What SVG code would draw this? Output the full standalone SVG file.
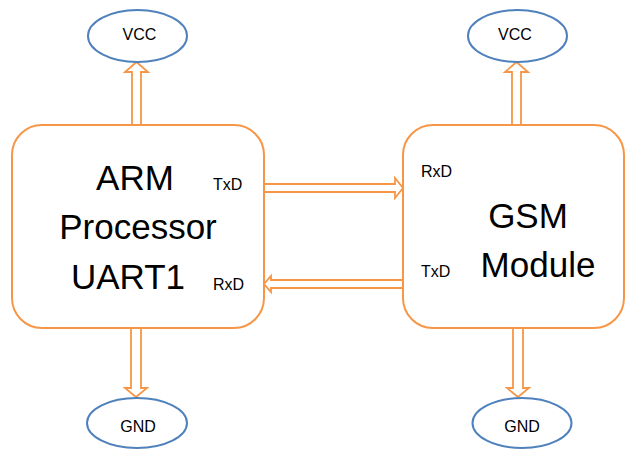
<svg xmlns="http://www.w3.org/2000/svg" width="627" height="452" viewBox="0 0 627 452">
<style>
.box{fill:#fff;stroke:#F79646;stroke-width:2}
.ell{fill:#fff;stroke:#4F81BD;stroke-width:2}
.arr{fill:#fff;stroke:#F79646;stroke-width:1.8;stroke-linejoin:miter}
text{font-family:"Liberation Sans",Arial,sans-serif;fill:#000;text-anchor:middle}
.big{font-size:35px}
.sm{font-size:16px}
.pin{font-size:16px;text-anchor:start}
</style>
<rect width="627" height="452" fill="#fff"/>
<g id="connectors">
<polygon class="arr" points="132,126 132,72 125,72 136.5,62 148,72 141,72 141,126"/>
<polygon class="arr" points="512,126 512,72 505,72 516.5,62 528,72 521,72 521,126"/>
<polygon class="arr" points="131,327 131,388 125,388 136,397 147,388 141,388 141,327"/>
<polygon class="arr" points="513,327 513,388 507,388 518,397 529,388 523,388 523,327"/>
<polygon class="arr" points="263,184 395,184 395,178 403,188 395,198 395,192 263,192"/>
<polygon class="arr" points="404,280 271,280 271,276 264,284 271,292 271,288 404,288"/>
</g>
<g id="arm">
<rect class="box" x="12" y="125" width="252" height="203" rx="30"/>
<text class="big" x="135" y="190">ARM</text>
<text class="big" x="138" y="239">Processor</text>
<text class="big" x="128" y="289">UART1</text>
<text class="pin" x="213" y="190">TxD</text>
<text class="pin" x="213" y="290">RxD</text>
</g>
<g id="gsm">
<rect class="box" x="403" y="125" width="221" height="203" rx="30"/>
<text class="big" x="528" y="228">GSM</text>
<text class="big" x="538" y="277">Module</text>
<text class="pin" x="421" y="177">RxD</text>
<text class="pin" x="421" y="277">TxD</text>
</g>
<g id="vcc1">
<ellipse class="ell" cx="137.5" cy="36" rx="49.5" ry="26"/>
<text class="sm" x="139.5" y="40">VCC</text>
</g>
<g id="vcc2">
<ellipse class="ell" cx="517.5" cy="36" rx="49.5" ry="26"/>
<text class="sm" x="515" y="40">VCC</text>
</g>
<g id="gnd1">
<ellipse class="ell" cx="137" cy="423" rx="50" ry="25"/>
<text class="sm" x="138" y="432">GND</text>
</g>
<g id="gnd2">
<ellipse class="ell" cx="522" cy="423" rx="49.5" ry="25"/>
<text class="sm" x="522" y="432">GND</text>
</g>
</svg>
